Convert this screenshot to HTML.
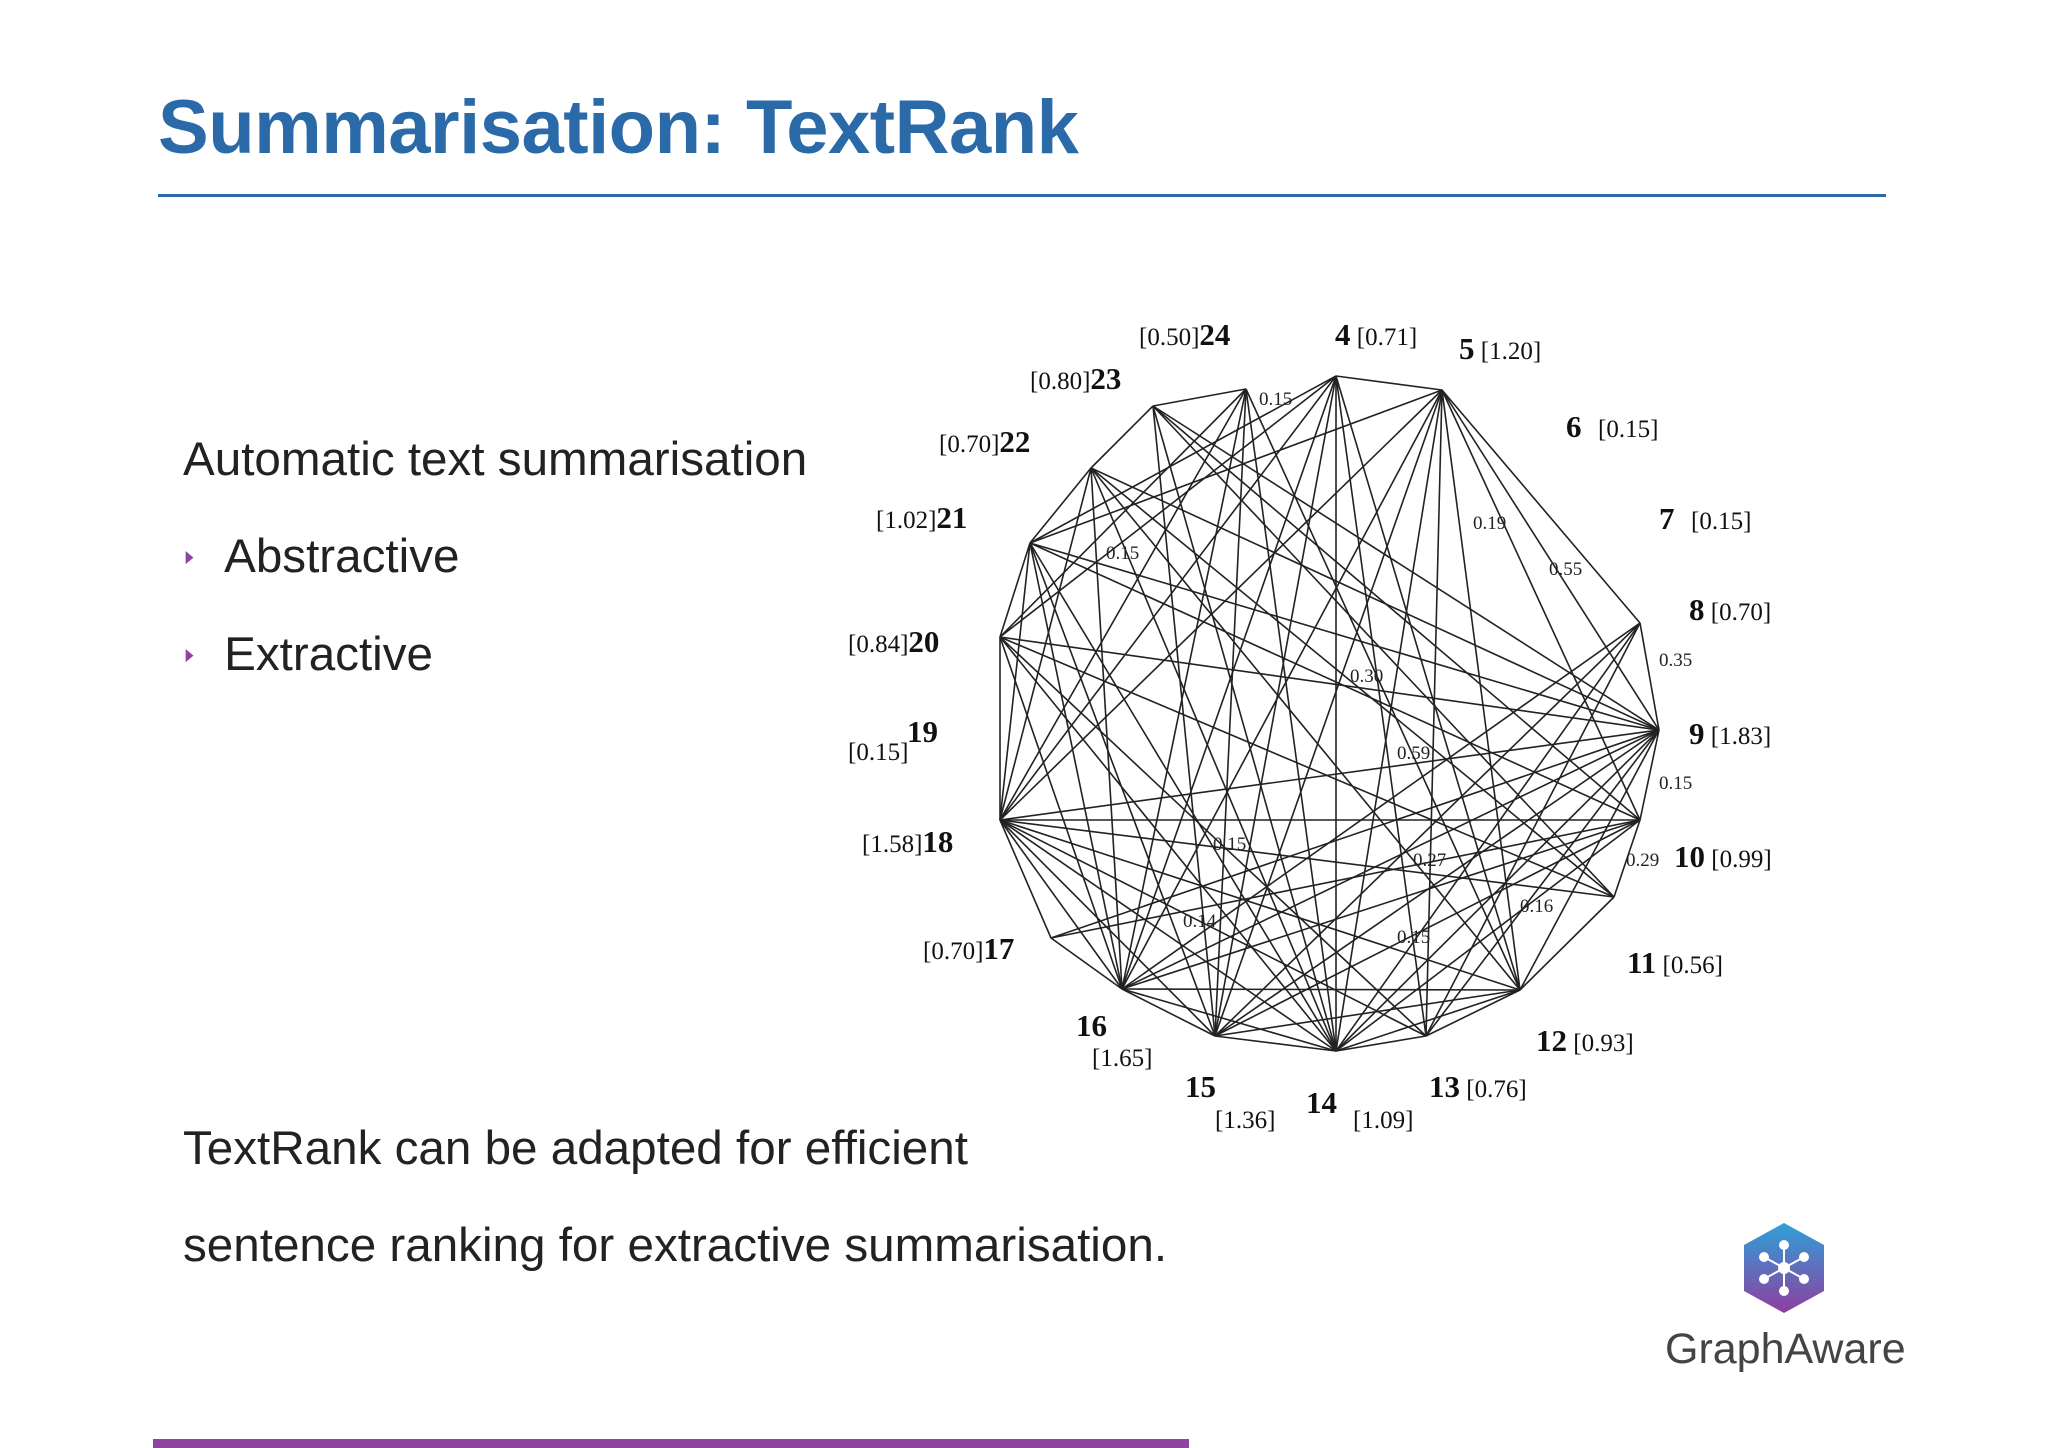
<!DOCTYPE html>
<html><head><meta charset="utf-8"><style>
html,body{margin:0;padding:0;background:#fff;}
body{width:2048px;height:1448px;position:relative;overflow:hidden;font-family:"Liberation Sans",sans-serif;}
.t{position:absolute;white-space:nowrap;}
</style></head><body>
<div class="t" style="left:158px;top:84px;font-size:76px;font-weight:bold;color:#2b6aa9;letter-spacing:-0.5px;">Summarisation: TextRank</div>
<div style="position:absolute;left:158px;top:194px;width:1728px;height:3px;background:#2e6aa6;"></div>
<div class="t" style="left:183px;top:432px;font-size:47.6px;color:#222;">Automatic text summarisation</div>
<div class="t" style="left:183px;top:529px;font-size:47.6px;color:#222;"><span style="color:#8e44a0;font-size:17px;position:relative;top:-10px;margin-right:28px;display:inline-block;transform:scaleX(0.6);">&#9654;</span>Abstractive</div>
<div class="t" style="left:183px;top:627px;font-size:47.6px;color:#222;"><span style="color:#8e44a0;font-size:17px;position:relative;top:-10px;margin-right:28px;display:inline-block;transform:scaleX(0.6);">&#9654;</span>Extractive</div>
<div class="t" style="left:183px;top:1100px;font-size:47.6px;color:#222;line-height:97px;">TextRank can be adapted for efficient<br>sentence ranking for extractive summarisation.</div>
<div style="position:absolute;left:153px;top:1439px;width:1036px;height:9px;background:#8e44a0;"></div>
<svg style="position:absolute;left:1730px;top:1215px" width="110" height="110" viewBox="0 0 110 110">
<defs><linearGradient id="lg" x1="0" y1="0" x2="0" y2="1"><stop offset="0" stop-color="#2fa0d8"/><stop offset="1" stop-color="#8e3fa0"/></linearGradient></defs>
<polygon points="54,8 94,30 94,76 54,98 14,76 14,30" fill="url(#lg)"/>
<g stroke="#fff" stroke-width="2" fill="#fff"><line x1="54" y1="30" x2="54" y2="76"/><line x1="34" y1="42" x2="74" y2="64"/><line x1="74" y1="42" x2="34" y2="64"/><circle cx="54" cy="30" r="4"/><circle cx="54" cy="76" r="4"/><circle cx="34" cy="42" r="4"/><circle cx="74" cy="42" r="4"/><circle cx="34" cy="64" r="4"/><circle cx="74" cy="64" r="4"/><circle cx="54" cy="53" r="5"/></g></svg>
<div class="t" style="left:1665px;top:1325px;font-size:43px;color:#444;">GraphAware</div>
<svg id="g" style="position:absolute;left:0;top:0" width="2048" height="1448" font-family="Liberation Serif, serif"></svg>
<script>
const nodeIds=[4,5,8,9,10,11,12,13,14,15,16,17,18,20,21,22,23,24];
const nodeScores=["0.71","1.20","0.70","1.83","0.99","0.56","0.93","0.76","1.09","1.36","1.65","0.70","1.58","0.84","1.02","0.70","0.80","0.50"];
const edges=[[23,24],[4,5],[5,8],[8,9],[9,10],[10,11],[11,12],[12,13],[13,14],[14,15],[15,16],[16,17],[17,18],[18,20],[20,21],[21,22],[22,23],
[9,21],[9,20],[9,22],[9,18],[9,17],[9,16],[9,15],[9,14],[9,13],[9,12],[9,5],[9,23],
[18,10],[18,24],[18,4],[18,5],[18,21],[18,22],[18,16],[18,15],[18,14],[18,13],[18,12],[18,11],
[14,4],[14,5],[14,24],[14,23],[14,21],[14,22],[14,20],[14,16],[14,12],[14,10],[14,8],
[16,12],[16,21],[16,22],[16,24],[16,4],[16,5],[16,8],[16,10],[16,20],
[4,21],[4,20],[4,12],[4,13],[4,15],[5,21],[5,12],[5,13],[5,15],[5,10],[24,15],[24,12],[24,20],[23,10],[23,11],[23,15],[22,11],[22,12],[21,10],[21,15],[20,11],[20,13],[17,10],[15,8],[15,10],[13,8],[12,15]];
const weightLabels=["0.15","0.19","0.55","0.35","0.15","0.30","0.59","0.15","0.29","0.15","0.27","0.16","0.14","0.15"];
// layout (node screen positions)
const pos={4:[1336,376],5:[1442,390],8:[1640,623],9:[1659,730],10:[1640,820],11:[1614,897],12:[1520,990],13:[1426,1036],14:[1336,1051],15:[1215,1036],16:[1122,989],17:[1051,938],18:[1000,820],20:[1000,637],21:[1030,543],22:[1091,468],23:[1153,406],24:[1246,389]};
const wPos=[[1259,405],[1473,529],[1549,575],[1659,666],[1106,559],[1350,682],[1397,759],[1659,789],[1626,866],[1213,850],[1413,866],[1520,912],[1183,927],[1397,943]];
const lab={4:[1335,345,'n'],5:[1459,359,'n'],8:[1689,620,'n'],9:[1689,744,'n'],10:[1674,867,'n'],11:[1627,973,'n'],12:[1536,1051,'n'],13:[1429,1097,'n'],17:[923,959,'s'],18:[862,852,'s'],20:[848,652,'s'],21:[876,528,'s'],22:[939,452,'s'],23:[1030,389,'s'],24:[1139,345,'s']};
const svg=document.getElementById('g');const NS='http://www.w3.org/2000/svg';
function mk(t,a,txt){const e=document.createElementNS(NS,t);for(const k in a)e.setAttribute(k,a[k]);if(txt!==undefined)e.textContent=txt;svg.appendChild(e);return e;}
edges.forEach(([a,b])=>{const l=mk('line',{x1:pos[a][0],y1:pos[a][1],x2:pos[b][0],y2:pos[b][1],stroke:'#222','stroke-width':1.6});

});
weightLabels.forEach((w,i)=>{const t=mk('text',{x:wPos[i][0],y:wPos[i][1],'font-size':19,fill:'#222'},w);

});
function score(id){return '['+nodeScores[nodeIds.indexOf(id)]+']';}
nodeIds.forEach(id=>{if(!lab[id])return;const [x,y,m]=lab[id];const t=mk('text',{x:x,y:y,fill:'#111'});


const b=document.createElementNS(NS,'tspan');b.setAttribute('font-weight','bold');b.setAttribute('font-size','31');b.textContent=String(id);
const s=document.createElementNS(NS,'tspan');s.setAttribute('font-size','25');
if(m==='n'){s.textContent=' '+score(id);t.appendChild(b);t.appendChild(s);}else{s.textContent=score(id);t.appendChild(s);t.appendChild(b);}});
function pair(num,sc,nx,ny,sx,sy,name){const a=mk('text',{x:nx,y:ny,'font-size':31,'font-weight':'bold',fill:'#111'},num);


const b=mk('text',{x:sx,y:sy,'font-size':25,fill:'#111'},sc);

}
pair('6','[0.15]',1566,437,1598,437,'node-6');
pair('7','[0.15]',1659,529,1691,529,'node-7');
pair('14',score(14),1306,1113,1353,1128,'node-14');
pair('15',score(15),1185,1097,1215,1128,'node-15');
pair('16',score(16),1076,1036,1092,1066,'node-16');
pair('19','[0.15]',907,742,848,760,'node-19');
</script>
</body></html>
